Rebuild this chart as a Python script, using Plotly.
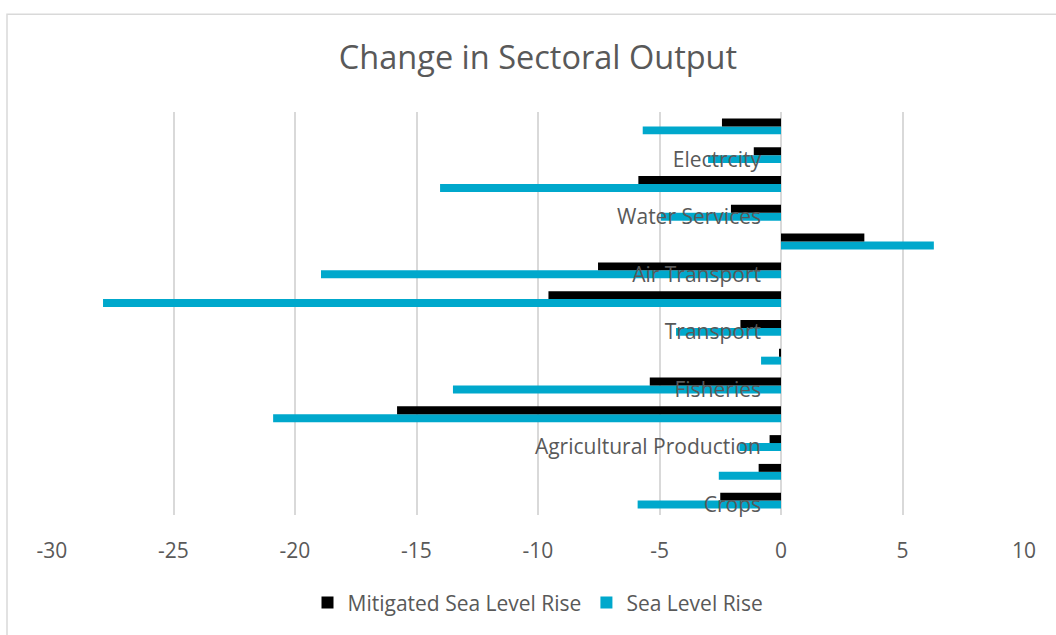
import plotly.graph_objects as go

# Sectors from bottom to top; only every second sector carries a visible label
sector_labels = [
    "Crops", "", "Agricultural Production", "", "Fisheries", "",
    "Transport", "", "Air Transport", "", "Water Services", "",
    "Electrcity", "",
]

# Percentage change in output, same order as sector_labels
mitigated_slr = [-2.5, -0.92, -0.47, -15.8, -5.4, -0.05,
                 -1.67, -9.57, -7.53, 3.43, -2.06, -5.87, -1.12, -2.43]
sea_level_rise = [-5.9, -2.56, -1.71, -20.9, -13.5, -0.82,
                  -4.32, -27.9, -18.93, 6.29, -4.94, -14.03, -3.0, -5.69]

x_ticks = [-30, -25, -20, -15, -10, -5, 0, 5, 10]
x_tick_text = [str(v) for v in x_ticks]  # plain hyphen minus signs

positions = list(range(len(sector_labels)))
label_positions = [i for i, s in enumerate(sector_labels) if s]
label_text = [sector_labels[i] for i in label_positions]

TEXT = "#595959"
GRID = "#D9D9D9"
FONT = "Open Sans"

fig = go.Figure()
fig.add_trace(go.Bar(
    y=positions, x=sea_level_rise, orientation="h",
    name="Sea Level Rise", marker=dict(color="#00A8CC", line_width=0),
    legendrank=2,
))
fig.add_trace(go.Bar(
    y=positions, x=mitigated_slr, orientation="h",
    name="Mitigated Sea Level Rise", marker=dict(color="#000000", line_width=0),
    legendrank=1,
))

fig.update_layout(
    width=1056, height=635,
    margin=dict(l=52, r=32, t=112, b=115),
    paper_bgcolor="white", plot_bgcolor="white",
    font=dict(family=FONT, color=TEXT, size=21),
    title=dict(text="Change in Sectoral Output", x=0.5, xanchor="center",
               y=0.91, yanchor="middle", xref="paper",
               font=dict(size=32.5, color=TEXT, family=FONT)),
    barmode="group", bargap=0.45, bargroupgap=0,
    showlegend=True,
    legend=dict(orientation="h", x=0.5, xanchor="center", y=-0.218,
                yanchor="middle", font=dict(size=21, color=TEXT),
                itemsizing="constant", traceorder="normal"),
    xaxis=dict(range=[-30, 10], tickvals=x_ticks, ticktext=x_tick_text,
               showgrid=True, gridcolor=GRID, gridwidth=1.5, zeroline=False,
               showline=False, ticks="", tickfont=dict(size=21, color=TEXT),
               ticklabelstandoff=21, fixedrange=True),
    yaxis=dict(range=[-0.5, len(sector_labels) - 0.5], tickvals=label_positions,
               ticktext=label_text, showgrid=False, zeroline=False,
               showline=False, ticks="", anchor="free", position=0.75,
               tickfont=dict(size=21, color=TEXT), ticklabelstandoff=20,
               ticklabelshift=4, fixedrange=True),
    shapes=[dict(type="rect", xref="paper", yref="paper",
                 x0=-0.0463, x1=1.2, y0=-0.5, y1=1.2426,
                 line=dict(color=GRID, width=1.5), layer="below")],
)

fig.write_html("out.html")
